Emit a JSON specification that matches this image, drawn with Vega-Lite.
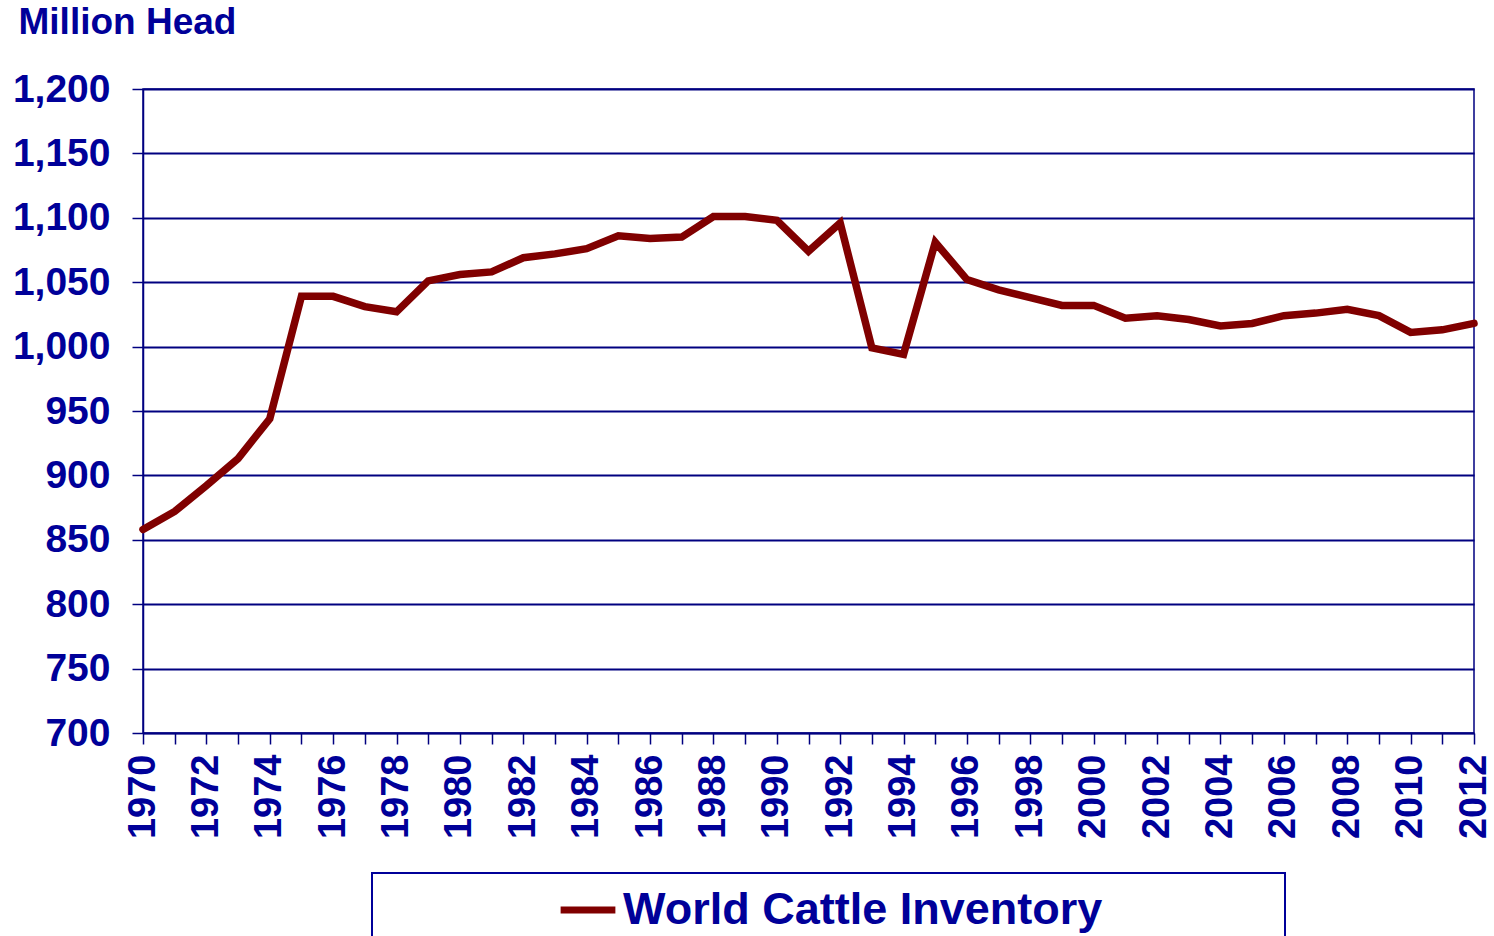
{
  "$schema": "https://vega.github.io/schema/vega-lite/v6.json",
  "width": 1331,
  "height": 644,
  "autosize": "none",
  "padding": {"left": 143, "top": 89, "right": 20, "bottom": 203},
  "background": "white",
  "config": {
    "view": {"stroke": "#000080", "strokeWidth": 1.5},
    "font": "Liberation Sans",
    "legend": {"strokeWidth": 2}
  },
  "data": {
    "values": [
      {"year": 1970, "head": 858, "series": "World Cattle Inventory"},
      {"year": 1971, "head": 872, "series": "World Cattle Inventory"},
      {"year": 1972, "head": 892, "series": "World Cattle Inventory"},
      {"year": 1973, "head": 913, "series": "World Cattle Inventory"},
      {"year": 1974, "head": 944, "series": "World Cattle Inventory"},
      {"year": 1975, "head": 1039, "series": "World Cattle Inventory"},
      {"year": 1976, "head": 1039, "series": "World Cattle Inventory"},
      {"year": 1977, "head": 1031, "series": "World Cattle Inventory"},
      {"year": 1978, "head": 1027, "series": "World Cattle Inventory"},
      {"year": 1979, "head": 1051, "series": "World Cattle Inventory"},
      {"year": 1980, "head": 1056, "series": "World Cattle Inventory"},
      {"year": 1981, "head": 1058, "series": "World Cattle Inventory"},
      {"year": 1982, "head": 1069, "series": "World Cattle Inventory"},
      {"year": 1983, "head": 1072, "series": "World Cattle Inventory"},
      {"year": 1984, "head": 1076, "series": "World Cattle Inventory"},
      {"year": 1985, "head": 1086, "series": "World Cattle Inventory"},
      {"year": 1986, "head": 1084, "series": "World Cattle Inventory"},
      {"year": 1987, "head": 1085, "series": "World Cattle Inventory"},
      {"year": 1988, "head": 1101, "series": "World Cattle Inventory"},
      {"year": 1989, "head": 1101, "series": "World Cattle Inventory"},
      {"year": 1990, "head": 1098, "series": "World Cattle Inventory"},
      {"year": 1991, "head": 1074, "series": "World Cattle Inventory"},
      {"year": 1992, "head": 1096, "series": "World Cattle Inventory"},
      {"year": 1993, "head": 999, "series": "World Cattle Inventory"},
      {"year": 1994, "head": 994, "series": "World Cattle Inventory"},
      {"year": 1995, "head": 1081, "series": "World Cattle Inventory"},
      {"year": 1996, "head": 1052, "series": "World Cattle Inventory"},
      {"year": 1997, "head": 1044, "series": "World Cattle Inventory"},
      {"year": 1998, "head": 1038, "series": "World Cattle Inventory"},
      {"year": 1999, "head": 1032, "series": "World Cattle Inventory"},
      {"year": 2000, "head": 1032, "series": "World Cattle Inventory"},
      {"year": 2001, "head": 1022, "series": "World Cattle Inventory"},
      {"year": 2002, "head": 1024, "series": "World Cattle Inventory"},
      {"year": 2003, "head": 1021, "series": "World Cattle Inventory"},
      {"year": 2004, "head": 1016, "series": "World Cattle Inventory"},
      {"year": 2005, "head": 1018, "series": "World Cattle Inventory"},
      {"year": 2006, "head": 1024, "series": "World Cattle Inventory"},
      {"year": 2007, "head": 1026, "series": "World Cattle Inventory"},
      {"year": 2008, "head": 1029, "series": "World Cattle Inventory"},
      {"year": 2009, "head": 1024, "series": "World Cattle Inventory"},
      {"year": 2010, "head": 1011, "series": "World Cattle Inventory"},
      {"year": 2011, "head": 1013, "series": "World Cattle Inventory"},
      {"year": 2012, "head": 1018, "series": "World Cattle Inventory"}
    ]
  },
  "mark": {"type": "line", "strokeWidth": 7.5, "strokeCap": "round", "strokeJoin": "miter", "clip": false},
  "encoding": {
    "x": {
      "field": "year",
      "type": "quantitative",
      "scale": {"domain": [1970, 2012], "nice": false, "zero": false},
      "axis": {
        "title": null,
        "values": [1970,1971,1972,1973,1974,1975,1976,1977,1978,1979,1980,1981,1982,1983,1984,1985,1986,1987,1988,1989,1990,1991,1992,1993,1994,1995,1996,1997,1998,1999,2000,2001,2002,2003,2004,2005,2006,2007,2008,2009,2010,2011,2012],
        "format": "d",
        "labelExpr": "datum.value % 2 == 0 ? datum.label : ''",
        "labelAngle": -90,
        "labelFont": "Liberation Sans",
        "labelFontWeight": "bold",
        "labelFontSize": 38,
        "labelColor": "#000099",
        "labelPadding": 10,
        "labelOverlap": false,
        "labelFlush": false,
        "labelBound": false,
        "tickSize": 11,
        "tickColor": "#000080",
        "tickWidth": 1.5,
        "domainColor": "#000080",
        "domainWidth": 1.5,
        "grid": false
      }
    },
    "y": {
      "field": "head",
      "type": "quantitative",
      "scale": {"domain": [700, 1200], "nice": false, "zero": false},
      "axis": {
        "title": "Million Head",
        "titleAngle": 0,
        "titleAlign": "left",
        "titleBaseline": "middle",
        "titleX": -125,
        "titleY": -67,
        "titleFont": "Liberation Sans",
        "titleFontWeight": "bold",
        "titleFontSize": 37,
        "titleColor": "#000099",
        "values": [700,750,800,850,900,950,1000,1050,1100,1150,1200],
        "format": ",.0f",
        "labelFont": "Liberation Sans",
        "labelFontWeight": "bold",
        "labelFontSize": 39,
        "labelColor": "#000099",
        "labelPadding": 22,
        "labelOverlap": false,
        "labelFlush": false,
        "labelBound": false,
        "tickSize": 11,
        "tickColor": "#000080",
        "tickWidth": 1.5,
        "domainColor": "#000080",
        "domainWidth": 1.5,
        "grid": true,
        "gridColor": "#000080",
        "gridWidth": 2,
        "gridOpacity": 1
      }
    },
    "color": {
      "field": "series",
      "type": "nominal",
      "scale": {"range": ["#800000"]},
      "legend": {
        "orient": "none",
        "legendX": 229,
        "legendY": 784,
        "title": " ",
        "titleOrient": "right",
        "titlePadding": 177,
        "titleFontSize": 10,
        "padding": 6,
        "symbolOffset": 179,
        "symbolType": "stroke",
        "symbolSize": 3000,
        "symbolStrokeWidth": 7,
        "labelFont": "Liberation Sans",
        "labelFontWeight": "bold",
        "labelFontSize": 45,
        "labelColor": "#000099",
        "labelOffset": 4,
        "labelLimit": 1000,
        "strokeColor": "#000099",
        "fillColor": "white"
      }
    }
  }
}
